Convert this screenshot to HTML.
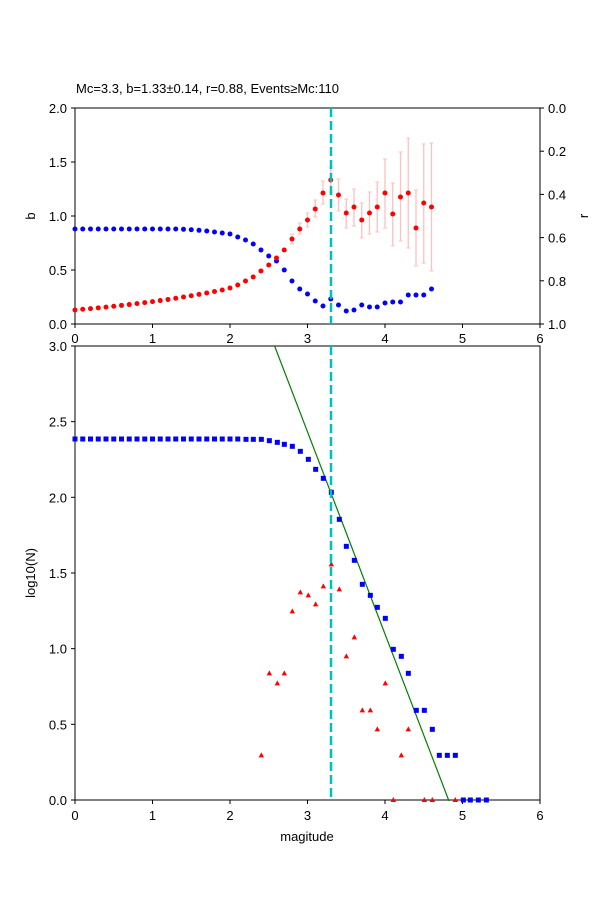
<!DOCTYPE html>
<html><head><meta charset="utf-8"><style>
html,body{margin:0;padding:0;background:#fff;}
svg text{font-family:"Liberation Sans","DejaVu Sans",sans-serif;font-size:13px;fill:#000;}
</style></head><body>
<svg id="s" width="600" height="900" xmlns="http://www.w3.org/2000/svg">
<rect width="600" height="900" fill="#fff"/>
<g id="g"></g>
<text x="76" y="93">Mc=3.3, b=1.33±0.14, r=0.88, Events≥Mc:110</text>
<text transform="translate(35,216) rotate(-90)" text-anchor="middle">b</text>
<text transform="translate(588,216) rotate(-90)" text-anchor="middle">r</text>
<text transform="translate(35,573) rotate(-90)" text-anchor="middle">log10(N)</text>
<text x="307" y="841" text-anchor="middle">magitude</text>
</svg>
<script>
var g=document.getElementById('g'),h='';
function X(m){return 75+77.5*m;}
h+='<rect x="75" y="108" width="465" height="216" fill="none" stroke="#000" stroke-width="1"/>';
h+='<rect x="75" y="346" width="465" height="454" fill="none" stroke="#000" stroke-width="1"/>';
for(var k=0;k<=6;k++){var x=X(k);
 h+='<line x1="'+x+'" y1="324" x2="'+x+'" y2="328" stroke="#000"/><text x="'+x+'" y="343" text-anchor="middle">'+k+'</text>';
 h+='<line x1="'+x+'" y1="800" x2="'+x+'" y2="804" stroke="#000"/><text x="'+x+'" y="820" text-anchor="middle">'+k+'</text>';}
var bl=['0.0','0.5','1.0','1.5','2.0'];
for(var k=0;k<5;k++){var y=324-54*k;h+='<line x1="71" y1="'+y+'" x2="75" y2="'+y+'" stroke="#000"/><text x="67" y="'+(y+5)+'" text-anchor="end">'+bl[k]+'</text>';}
var rl=['0.0','0.2','0.4','0.6','0.8','1.0'];
for(var k=0;k<6;k++){var y=108+43.2*k;h+='<line x1="540" y1="'+y+'" x2="544" y2="'+y+'" stroke="#000"/><text x="548" y="'+(y+5)+'">'+rl[k]+'</text>';}
for(var k=0;k<7;k++){var y=800-75.67*k;h+='<line x1="71" y1="'+y+'" x2="75" y2="'+y+'" stroke="#000"/><text x="67" y="'+(y+5)+'" text-anchor="end">'+(k*0.5).toFixed(1)+'</text>';}
var blueT=[234,237,240,244,250,256,261,270,281,289,294,301,306,299,305,311,310,305,307,307,303,302,302,295,295,295,289];
var redT=[288,285,281,277,271,265,258,250,239,229,220,209,193,180,195,213,207,220,213,207,193,214,197,193,228,203,207];
var eb={8:[234,244],9:[223,234],10:[213,227],11:[200,217],12:[181,204],13:[168,192],14:[179,211],15:[199,228],16:[189,226],17:[203,238],18:[192,234],19:[182,232],20:[159,228],21:[183,246],22:[152,241],23:[138,248],24:[190,266],25:[144,263],26:[143,271]};
for(var i in eb){var x=X(2+i*0.1);h+='<line x1="'+x+'" y1="'+eb[i][0]+'" x2="'+x+'" y2="'+eb[i][1]+'" stroke="#ffc0c0" stroke-width="1.3"/><line x1="'+(x-2)+'" y1="'+eb[i][0]+'" x2="'+(x+2)+'" y2="'+eb[i][0]+'" stroke="#ffc0c0"/><line x1="'+(x-2)+'" y1="'+eb[i][1]+'" x2="'+(x+2)+'" y2="'+eb[i][1]+'" stroke="#ffc0c0"/>';}
var blueE=[229,229,229,229,229,229,229,229,229,229,229,229,229,229,229.3,229.7,230.3,231,232,233];
for(var i=0;i<20;i++){var m=i*0.1;
 h+='<circle cx="'+X(m)+'" cy="'+blueE[i]+'" r="2.5" fill="#0000ff"/>';
 var b=0.13*Math.exp(0.466*m);h+='<circle cx="'+X(m)+'" cy="'+(324-108*b)+'" r="2.5" fill="#ff0000"/>';}
for(var i=0;i<27;i++){var x=X(2+i*0.1);h+='<circle cx="'+x+'" cy="'+blueT[i]+'" r="2.5" fill="#0000ff"/><circle cx="'+x+'" cy="'+redT[i]+'" r="2.5" fill="#ff0000"/>';}
h+='<line x1="274.6" y1="346" x2="449" y2="801" stroke="#008000" stroke-width="1.2"/>';
var bq=[58,58,58,62,67,73,79,94,118,148,175,217,298,379,421,493,526,562,595,688,709,760,871,871,928,1006,1006,1006,1143,1143,1143,1143];
var bx=[18,40,64,88,112,133,157,181,205,227,250,274,298,319,343,367,391,412,436,460,484,505,529,553,577,598,622,646,670,691,715,739];
for(var i=0;i<22;i++){h+='<rect x="'+(X(i*0.1)-2.5)+'" y="'+(439-2.5)+'" width="5" height="5" fill="#0000ff"/>';}
for(var i=0;i<bq.length;i++){var x=240+bx[i]/3;var y=420+bq[i]/3;if(y>800)y=800;h+='<rect x="'+(x-2.5)+'" y="'+(y-2.5)+'" width="5" height="5" fill="#0000ff"/>';}
var tr=[[64,1006],[88,760],[112,790],[133,760],[157,574],[181,517],[205,526],[227,553],[250,499],[274,433],[298,508],[319,709],[343,652],[367,871],[391,871],[412,928],[436,790],[460,1143],[484,1006],[505,928],[553,1143],[577,1143],[646,1143]];
for(var i=0;i<tr.length;i++){var x=240+tr[i][0]/3,y=420+tr[i][1]/3;if(y>800)y=800;h+='<polygon points="'+x+','+(y-3)+' '+(x-2.7)+','+(y+2)+' '+(x+2.7)+','+(y+2)+'" fill="#ff0000"/>';}
h+='<line x1="331" y1="108" x2="331" y2="324" stroke="#00bfbf" stroke-width="2.5" stroke-dasharray="9,4"/>';
h+='<line x1="331" y1="346" x2="331" y2="800" stroke="#00bfbf" stroke-width="2.5" stroke-dasharray="9,4"/>';
g.innerHTML=h;
</script>
</body></html>
